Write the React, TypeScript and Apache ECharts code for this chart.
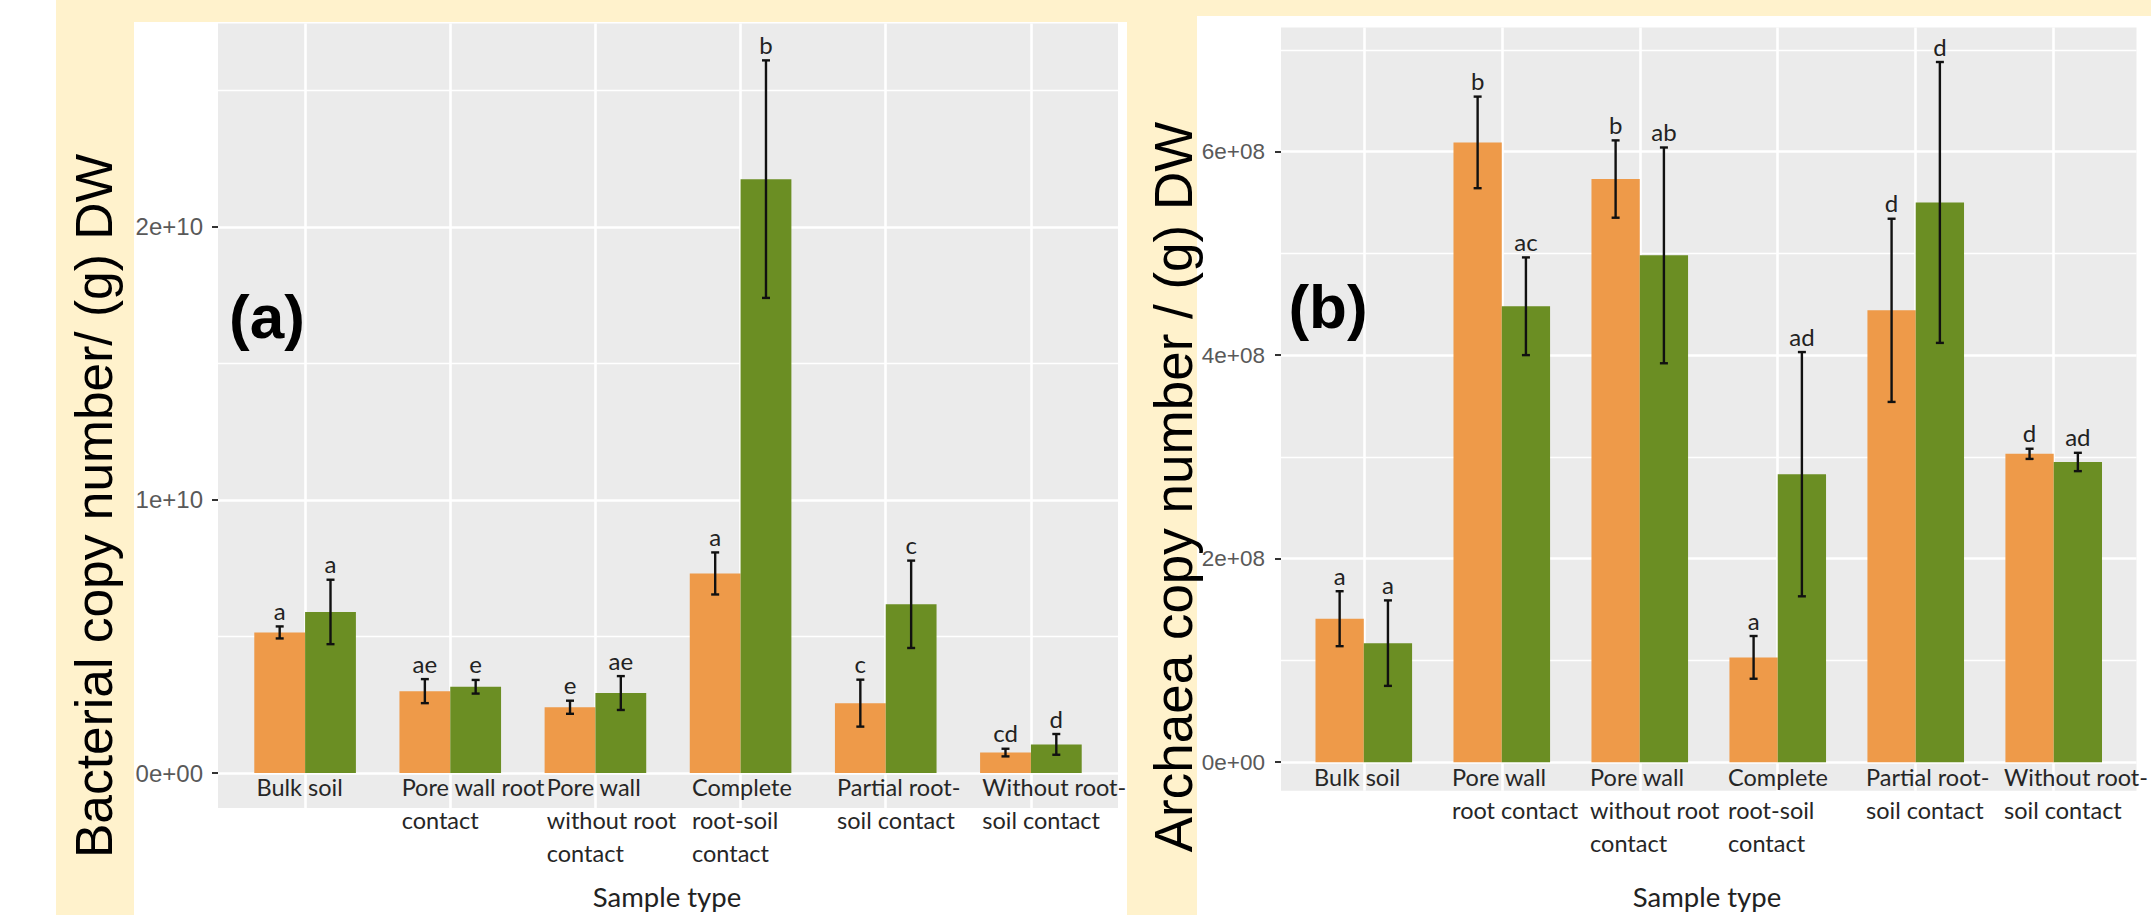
import React, { useEffect, useRef } from 'react';
import * as echarts from 'echarts';

// Sample types (line breaks follow the printed labels of each panel)
const sampleTypesA = [
  'Bulk soil',
  'Pore wall root\ncontact',
  'Pore wall\nwithout root\ncontact',
  'Complete\nroot-soil\ncontact',
  'Partial root-\nsoil contact',
  'Without root-\nsoil contact',
];
const sampleTypesB = [
  'Bulk soil',
  'Pore wall\nroot contact',
  'Pore wall\nwithout root\ncontact',
  'Complete\nroot-soil\ncontact',
  'Partial root-\nsoil contact',
  'Without root-\nsoil contact',
];

// (a) bacterial copy number per g DW
const bacteriaOrange = [5.15e9, 3.0e9, 2.41e9, 7.31e9, 2.56e9, 0.75e9];
const bacteriaOrangeErr = [0.22e9, 0.44e9, 0.24e9, 0.77e9, 0.86e9, 0.14e9];
const bacteriaGreen = [5.9e9, 3.16e9, 2.93e9, 21.75e9, 6.18e9, 1.05e9];
const bacteriaGreenErr = [1.18e9, 0.25e9, 0.62e9, 4.35e9, 1.6e9, 0.38e9];
const bacteriaOrangeLetters = ['a', 'ae', 'e', 'a', 'c', 'cd'];
const bacteriaGreenLetters = ['a', 'e', 'ae', 'b', 'c', 'd'];

// (b) archaeal copy number per g DW
const archaeaOrange = [1.41e8, 6.09e8, 5.73e8, 1.03e8, 4.44e8, 3.03e8];
const archaeaOrangeErr = [0.27e8, 0.45e8, 0.38e8, 0.21e8, 0.9e8, 0.05e8];
const archaeaGreen = [1.17e8, 4.48e8, 4.98e8, 2.83e8, 5.5e8, 2.95e8];
const archaeaGreenErr = [0.42e8, 0.48e8, 1.06e8, 1.2e8, 1.38e8, 0.09e8];
const archaeaOrangeLetters = ['a', 'b', 'b', 'a', 'd', 'd'];
const archaeaGreenLetters = ['a', 'ac', 'ab', 'ad', 'd', 'ad'];

// Axis ticks
const yTicksA = [0, 1e10, 2e10];
const yTickLabelsA = ['0e+00', '1e+10', '2e+10'];
const yMinorA = [0.5e10, 1.5e10, 2.5e10];
const yTicksB = [0, 2e8, 4e8, 6e8];
const yTickLabelsB = ['0e+00', '2e+08', '4e+08', '6e+08'];
const yMinorB = [1e8, 3e8, 5e8, 7e8];

const ORANGE = '#EE9A49';
const GREEN = '#6B8E23';
const PANEL = '#EBEBEB';
const CREAM = '#FFF2CC';
const BAR_FRACTION = 0.35; // each bar takes 35% of a category slot

const positions = (n: number) => Array.from({ length: n }, (_, i) => i + 1);

function xAxisFor(gridIndex: number, names: string[], labelShift: number, margin: number) {
  const centers = positions(names.length);
  return {
    type: 'value',
    gridIndex,
    min: 0.4,
    max: names.length + 0.6,
    axisLine: { show: false, onZero: false },
    axisTick: { show: false, customValues: centers },
    splitLine: { show: true, lineStyle: { color: '#ffffff', width: 2.6 } },
    axisLabel: {
      customValues: centers.map((c) => c + labelShift),
      formatter: (v: number) => names[Math.round(v) - 1] ?? '',
      align: 'left',
      verticalAlign: 'top',
      margin,
      lineHeight: 33,
      fontFamily: 'Lato',
      fontSize: 23.5,
      color: '#262626',
    },
  };
}

function majorY(gridIndex: number, min: number, max: number, ticks: number[], labels: string[], fontSize: number, margin: number) {
  return {
    type: 'value',
    gridIndex,
    min,
    max,
    axisLine: { show: false },
    axisTick: { show: true, customValues: ticks, length: 6, lineStyle: { color: '#333333', width: 2 } },
    axisLabel: {
      customValues: ticks,
      formatter: (v: number) => labels[ticks.indexOf(v)] ?? '',
      margin,
      fontFamily: 'Liberation Sans',
      fontSize,
      color: '#595959',
    },
    splitLine: { show: true, lineStyle: { color: '#ffffff', width: 2.6 } },
  };
}

function minorY(gridIndex: number, min: number, max: number, ticks: number[]) {
  return {
    type: 'value',
    gridIndex,
    min,
    max,
    axisLine: { show: false },
    axisTick: { show: false, customValues: ticks },
    axisLabel: { show: false },
    splitLine: { show: true, lineStyle: { color: '#ffffff', width: 1.4 } },
  };
}

function barSeries(xAxisIndex: number, yAxisIndex: number, values: number[], color: string) {
  return {
    type: 'bar',
    xAxisIndex,
    yAxisIndex,
    data: values.map((v, i) => [i + 1, v]),
    barWidth: `${BAR_FRACTION * 100}%`,
    barGap: '0%',
    itemStyle: { color },
    z: 3,
  };
}

// Error bars (mean ± error) with the significance letter above each one
function errorSeries(
  xAxisIndex: number,
  yAxisIndex: number,
  values: number[],
  errors: number[],
  letters: string[],
  side: number,
) {
  const shift = (side * BAR_FRACTION) / 2;
  return {
    type: 'custom',
    xAxisIndex,
    yAxisIndex,
    data: values.map((v, i) => [i + 1, v, errors[i]]),
    encode: { x: 0, y: 1 },
    z: 5,
    renderItem: (params: any, api: any) => {
      const x = api.value(0) + shift;
      const m = api.value(1);
      const e = api.value(2);
      const top = api.coord([x, m + e]);
      const bot = api.coord([x, m - e]);
      const cap = 4;
      const stroke = { stroke: '#111111', lineWidth: 2.4 };
      return {
        type: 'group',
        children: [
          { type: 'line', shape: { x1: top[0], y1: top[1], x2: bot[0], y2: bot[1] }, style: stroke },
          { type: 'line', shape: { x1: top[0] - cap, y1: top[1], x2: top[0] + cap, y2: top[1] }, style: stroke },
          { type: 'line', shape: { x1: bot[0] - cap, y1: bot[1], x2: bot[0] + cap, y2: bot[1] }, style: stroke },
          {
            type: 'text',
            x: top[0],
            y: top[1] - 4,
            style: {
              text: letters[params.dataIndex],
              fontFamily: 'Lato',
              fontSize: 24,
              fill: '#222222',
              align: 'center',
              verticalAlign: 'bottom',
            },
          },
        ],
      };
    },
  };
}

export default function App() {
  const ref = useRef<HTMLDivElement>(null);

  useEffect(() => {
    if (!ref.current) return;
    const chart = echarts.init(ref.current, undefined, { renderer: 'svg' });

    const option = {
      animation: false,
      backgroundColor: 'transparent',
      grid: [
        { left: 218, top: 23.5, width: 900, height: 784.5, show: true, backgroundColor: PANEL, borderWidth: 0 },
        { left: 1281, top: 27.4, width: 878.5, height: 763.3, show: true, backgroundColor: PANEL, borderWidth: 0 },
      ],
      xAxis: [xAxisFor(0, sampleTypesA, -0.335, -38), xAxisFor(1, sampleTypesB, -0.36, -30)],
      yAxis: [
        majorY(0, -0.128e10, 2.745e10, yTicksA, yTickLabelsA, 24, 15),
        minorY(0, -0.128e10, 2.745e10, yMinorA),
        majorY(1, -0.28e8, 7.22e8, yTicksB, yTickLabelsB, 22.5, 16),
        minorY(1, -0.28e8, 7.22e8, yMinorB),
      ],
      series: [
        barSeries(0, 0, bacteriaOrange, ORANGE),
        barSeries(0, 0, bacteriaGreen, GREEN),
        errorSeries(0, 0, bacteriaOrange, bacteriaOrangeErr, bacteriaOrangeLetters, -1),
        errorSeries(0, 0, bacteriaGreen, bacteriaGreenErr, bacteriaGreenLetters, 1),
        barSeries(1, 2, archaeaOrange, ORANGE),
        barSeries(1, 2, archaeaGreen, GREEN),
        errorSeries(1, 2, archaeaOrange, archaeaOrangeErr, archaeaOrangeLetters, -1),
        errorSeries(1, 2, archaeaGreen, archaeaGreenErr, archaeaGreenLetters, 1),
      ],
      graphic: {
        elements: [
          // page backdrop: cream frame with two white figure cards
          { type: 'rect', z: -100, shape: { x: 56, y: 0, width: 2095, height: 915 }, style: { fill: CREAM } },
          { type: 'rect', z: -99, shape: { x: 134, y: 22, width: 993, height: 893 }, style: { fill: '#ffffff' } },
          { type: 'rect', z: -99, shape: { x: 1197, y: 16, width: 954, height: 899 }, style: { fill: '#ffffff' } },
          // y-axis titles
          {
            type: 'text', z: 100, x: 94, y: 506, rotation: Math.PI / 2,
            style: { text: 'Bacterial copy number/ (g) DW', fontFamily: 'Liberation Sans', fontSize: 51.5, fill: '#000', align: 'center', verticalAlign: 'middle' },
          },
          {
            type: 'text', z: 100, x: 1173, y: 487, rotation: Math.PI / 2,
            style: { text: 'Archaea copy number / (g) DW', fontFamily: 'Liberation Sans', fontSize: 53, fill: '#000', align: 'center', verticalAlign: 'middle' },
          },
          // panel tags
          {
            type: 'text', z: 100, x: 267, y: 316,
            style: { text: '(a)', fontFamily: 'Liberation Sans', fontWeight: 'bold', fontSize: 62, fill: '#000', align: 'center', verticalAlign: 'middle' },
          },
          {
            type: 'text', z: 100, x: 1328, y: 306,
            style: { text: '(b)', fontFamily: 'Liberation Sans', fontWeight: 'bold', fontSize: 62, fill: '#000', align: 'center', verticalAlign: 'middle' },
          },
          // x-axis titles
          {
            type: 'text', z: 100, x: 667, y: 896,
            style: { text: 'Sample type', fontFamily: 'Lato', fontSize: 27.5, fill: '#222', align: 'center', verticalAlign: 'middle' },
          },
          {
            type: 'text', z: 100, x: 1707, y: 896,
            style: { text: 'Sample type', fontFamily: 'Lato', fontSize: 27.5, fill: '#222', align: 'center', verticalAlign: 'middle' },
          },
        ],
      },
    };

    chart.setOption(option as any);
    return () => chart.dispose();
  }, []);

  return (
    <div
      ref={ref}
      style={{ position: 'absolute', left: 0, top: 0, width: 2151, height: 915 }}
    />
  );
}
